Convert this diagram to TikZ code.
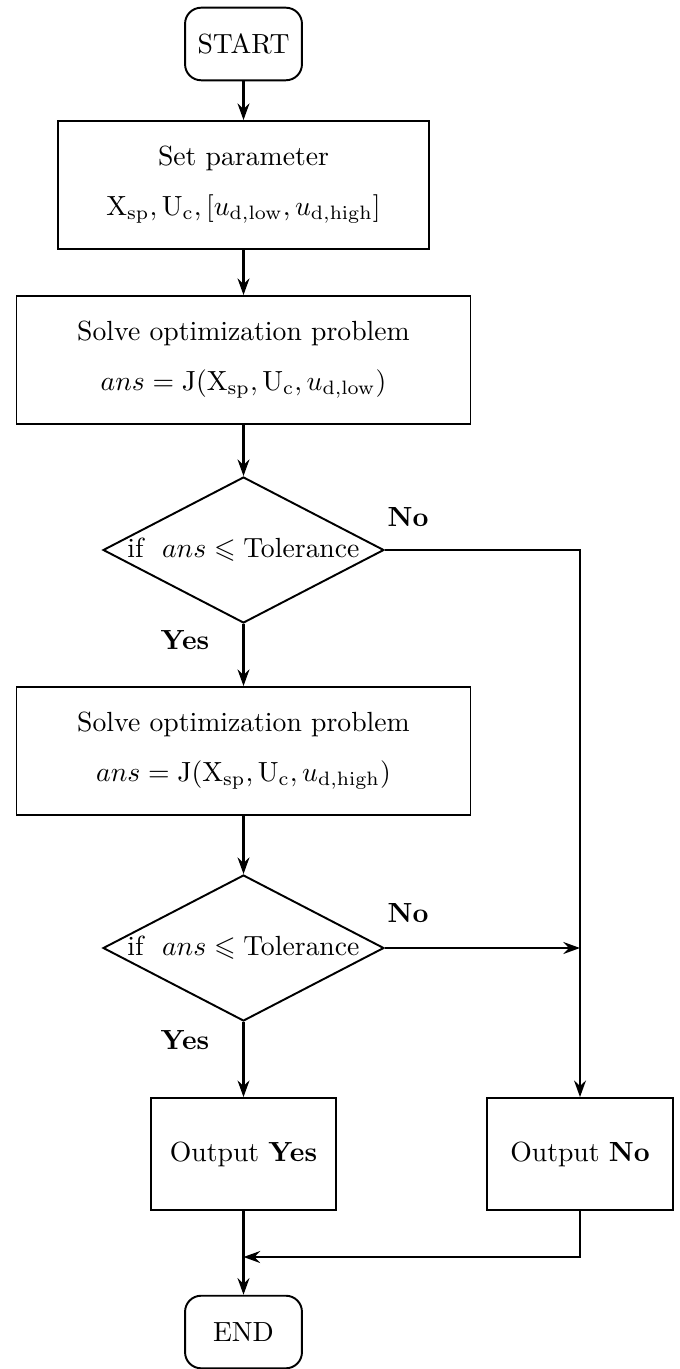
\documentclass[tikz,border=0pt]{standalone}
\usepackage{amsmath,amssymb}
\usetikzlibrary{shapes.geometric,arrows.meta}
\begin{document}
\begin{tikzpicture}[x=0.361pt,y=-0.361pt,
  line width=0.8pt,
  every node/.style={font=\normalsize},
  term/.style={draw,line width=0.7pt,rounded corners=5.8pt,minimum width=42.2pt,minimum height=26.2pt,inner sep=0pt},
  proc/.style={draw,line width=0.7pt,minimum height=46.2pt,inner sep=0pt,align=center},
  decide/.style={draw,line width=0.7pt,diamond,shape aspect=1.9,minimum width=101.4pt,minimum height=52.7pt,inner sep=0pt},
  outbox/.style={draw,line width=0.7pt,minimum width=67.1pt,minimum height=40.4pt,inner sep=0pt},
  lbl/.style={font=\bfseries},
  flow/.style={-{Stealth[length=6pt,width=4.3pt,inset=2pt]}}]
\useasboundingbox (0,0) rectangle (679,1369);

% terminals, processes and decisions down the main column
\node[term] (start) at (243.5,44) {START};
\node[proc,minimum width=133.9pt] (setp) at (243.5,185)
  {Set parameter\\[6pt]
   $\mathrm{X}_{\mathrm{sp}},\mathrm{U}_{\mathrm{c}},[u_{\mathrm{d,low}},u_{\mathrm{d,high}}]$};
\node[proc,minimum width=163.9pt] (solve1) at (243.5,360)
  {Solve optimization problem\\[6pt]
   $ans=\mathrm{J}(\mathrm{X}_{\mathrm{sp}},\mathrm{U}_{\mathrm{c}},u_{\mathrm{d,low}})$};
\node[decide] (dec1) at (243.5,550) {if\ \ $ans\leqslant\mathrm{Tolerance}$};
\node[proc,minimum width=163.9pt] (solve2) at (243.5,751)
  {Solve optimization problem\\[6pt]
   $ans=\mathrm{J}(\mathrm{X}_{\mathrm{sp}},\mathrm{U}_{\mathrm{c}},u_{\mathrm{d,high}})$};
\node[decide] (dec2) at (243.5,948) {if\ \ $ans\leqslant\mathrm{Tolerance}$};
\node[outbox] (outyes) at (243.5,1154) {Output \textbf{Yes}};
\node[outbox] (outno) at (580,1154) {Output \textbf{No}};
\node[term] (stop) at (243.5,1332) {END};

% branch labels
\node[lbl] (no1) at (408,517) {No};
\node[lbl] (yes1) at (185,640) {Yes};
\node[lbl] (no2) at (408,913) {No};
\node[lbl] (yes2) at (185,1040) {Yes};

% routing points on the right-hand branch
\coordinate (corner) at (580,550);
\coordinate (join) at (580,948);
\coordinate (merge) at (580,1257);
\coordinate (mergeL) at (243.5,1257);

% connectors
\draw[flow] (start) -- (setp);
\draw[flow] (setp) -- (solve1);
\draw[flow] (solve1) -- (dec1);
\draw[flow] (dec1) -- (solve2);
\draw[flow] (solve2) -- (dec2);
\draw[flow] (dec2) -- (outyes);
\draw[flow] (dec1.east) -- (corner) -- (outno.north);
\draw[flow] (dec2.east) -- (join);
\draw[flow] (outyes) -- (stop);
\draw[flow] (outno.south) -- (merge) -- (mergeL);
\end{tikzpicture}
\end{document}
